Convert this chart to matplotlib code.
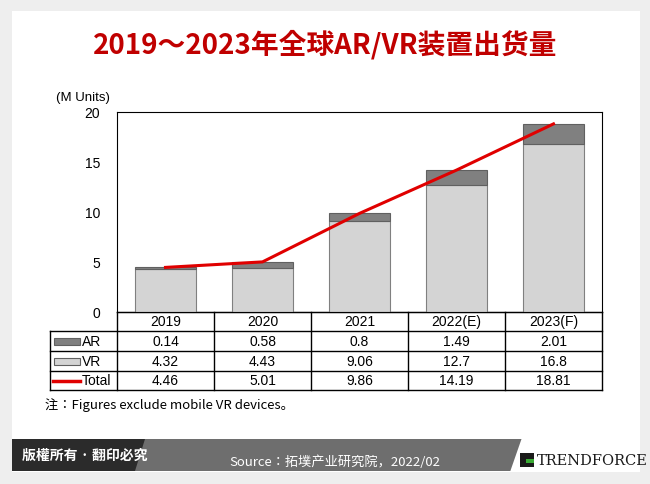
import matplotlib.pyplot as plt
from matplotlib.patches import Rectangle, Polygon
from matplotlib.lines import Line2D
from matplotlib import font_manager
import numpy as np

years = ["2019", "2020", "2021", "2022(E)", "2023(F)"]
ar = [0.14, 0.58, 0.8, 1.49, 2.01]
vr = [4.32, 4.43, 9.06, 12.7, 16.8]
total = [4.46, 5.01, 9.86, 14.19, 18.81]

# find a CJK font by name
cjk = None
for f in font_manager.fontManager.ttflist:
    if "CJK" in f.name and ("SC" in f.name or cjk is None):
        cjk = f.name
        if "SC" in f.name:
            break
CJK = [cjk, "DejaVu Sans"] if cjk else ["DejaVu Sans"]
plt.rcParams["font.family"] = ["Liberation Sans", "DejaVu Sans"]

W, H = 650, 485
fig = plt.figure(figsize=(6.5, 4.85), dpi=100)
fig.patch.set_facecolor("#eeeeee")

def fx(x):
    return x / W

def fy(y):
    return 1 - y / H

# white card
fig.add_artist(Rectangle((fx(12), fy(473)), fx(628), 461 / H, transform=fig.transFigure,
                         facecolor="white", edgecolor="none", zorder=-10))

fig.text(0.5, fy(45), "2019～2023年全球AR/VR装置出货量", ha="center", va="center",
         fontsize=20, fontweight="bold", color="#c00000", family=CJK)

# chart
left, right, top, bottom = 117, 602, 113, 313
ax = fig.add_axes([fx(left), fy(bottom), (right - left) / W, (bottom - top) / H])
ax.set_zorder(5)
x = np.arange(len(years))
ax.bar(x, vr, width=0.62, color="#d4d4d4", edgecolor="#808080", linewidth=0.8)
ax.bar(x, ar, bottom=vr, width=0.62, color="#808080", edgecolor="#606060", linewidth=0.8)
ax.plot(x, total, color="#e00000", linewidth=2.2)
ax.set_xlim(-0.5, len(years) - 0.5)
ax.set_ylim(0, 20)
ax.set_yticks([0, 5, 10, 15, 20])
ax.set_xticks([])
ax.tick_params(axis="y", length=0, labelsize=10, pad=12)
ax.patch.set_alpha(0)
ax.text(-0.07, 1.06, "(M Units)", transform=ax.transAxes, ha="center", fontsize=9.5)

# table
row_y = [313, 332, 352, 372, 391]
col_w = (right - left) / len(years)
tl = 50
lw = 1.0

def hline(y, x0, x1):
    fig.add_artist(Line2D([fx(x0), fx(x1)], [fy(y), fy(y)], color="black", lw=lw))

def vline(xp, y0, y1):
    fig.add_artist(Line2D([fx(xp), fx(xp)], [fy(y0), fy(y1)], color="black", lw=lw))

hline(row_y[0], left, right)
for y in row_y[1:]:
    hline(y, tl, right)
vline(tl, row_y[1], row_y[4])
for i in range(len(years) + 1):
    vline(left + i * col_w, row_y[0], row_y[4])

for i, yr in enumerate(years):
    cx = fx(left + (i + 0.5) * col_w)
    fig.text(cx, fy((row_y[0] + row_y[1]) / 2), yr, ha="center", va="center", fontsize=10)
    for r, vals in enumerate([ar, vr, total]):
        fig.text(cx, fy((row_y[r + 1] + row_y[r + 2]) / 2), f"{vals[i]:g}",
                 ha="center", va="center", fontsize=10)

labels = ["AR", "VR", "Total"]
for r, lab in enumerate(labels):
    yc = (row_y[r + 1] + row_y[r + 2]) / 2
    if r < 2:
        fig.add_artist(Rectangle((fx(54), fy(yc + 3.5)), fx(26), 7 / H,
                                 facecolor=["#808080", "#d4d4d4"][r], edgecolor="#606060",
                                 lw=0.8, transform=fig.transFigure))
    else:
        fig.add_artist(Line2D([fx(53), fx(80)], [fy(yc), fy(yc)], color="#e00000", lw=2.5))
    fig.text(fx(82), fy(yc), lab, va="center", fontsize=10)

fig.text(fx(45), fy(405), "注：Figures exclude mobile VR devices。", va="center",
         fontsize=9.5, family=CJK)

# footer
fig.add_artist(Polygon([(fx(12), fy(440)), (fx(640), fy(440)), (fx(640), fy(472)), (fx(12), fy(472))],
                       closed=True, facecolor="#6e6e6e", edgecolor="none", transform=fig.transFigure))
fig.add_artist(Polygon([(fx(12), fy(440)), (fx(145), fy(440)), (fx(135), fy(472)), (fx(12), fy(472))],
                       closed=True, facecolor="#2b2b2b", edgecolor="none", transform=fig.transFigure))
fig.add_artist(Polygon([(fx(525), fy(430)), (fx(640), fy(430)), (fx(640), fy(473)), (fx(510), fy(473))],
                       closed=True, facecolor="white", edgecolor="none", transform=fig.transFigure))
fig.text(fx(22), fy(456), "版權所有 · 翻印必究", va="center", color="white", fontsize=10,
         fontweight="bold", family=CJK)
fig.text(fx(335), fy(462), "Source：拓墣产业研究院，2022/02", ha="center", va="center",
         color="white", fontsize=9.5, family=CJK)
fig.add_artist(Rectangle((fx(520), fy(468)), fx(14), 14 / H, facecolor="#1a1a1a",
                         transform=fig.transFigure))
fig.add_artist(Rectangle((fx(526), fy(464)), fx(8), 4 / H, facecolor="#3aaa35",
                         transform=fig.transFigure))
fig.text(fx(537), fy(461), "TRENDFORCE", va="center", fontsize=10.5, family="DejaVu Serif",
         color="#1a1a1a")

fig.savefig("out.png", dpi=100, facecolor=fig.get_facecolor())
